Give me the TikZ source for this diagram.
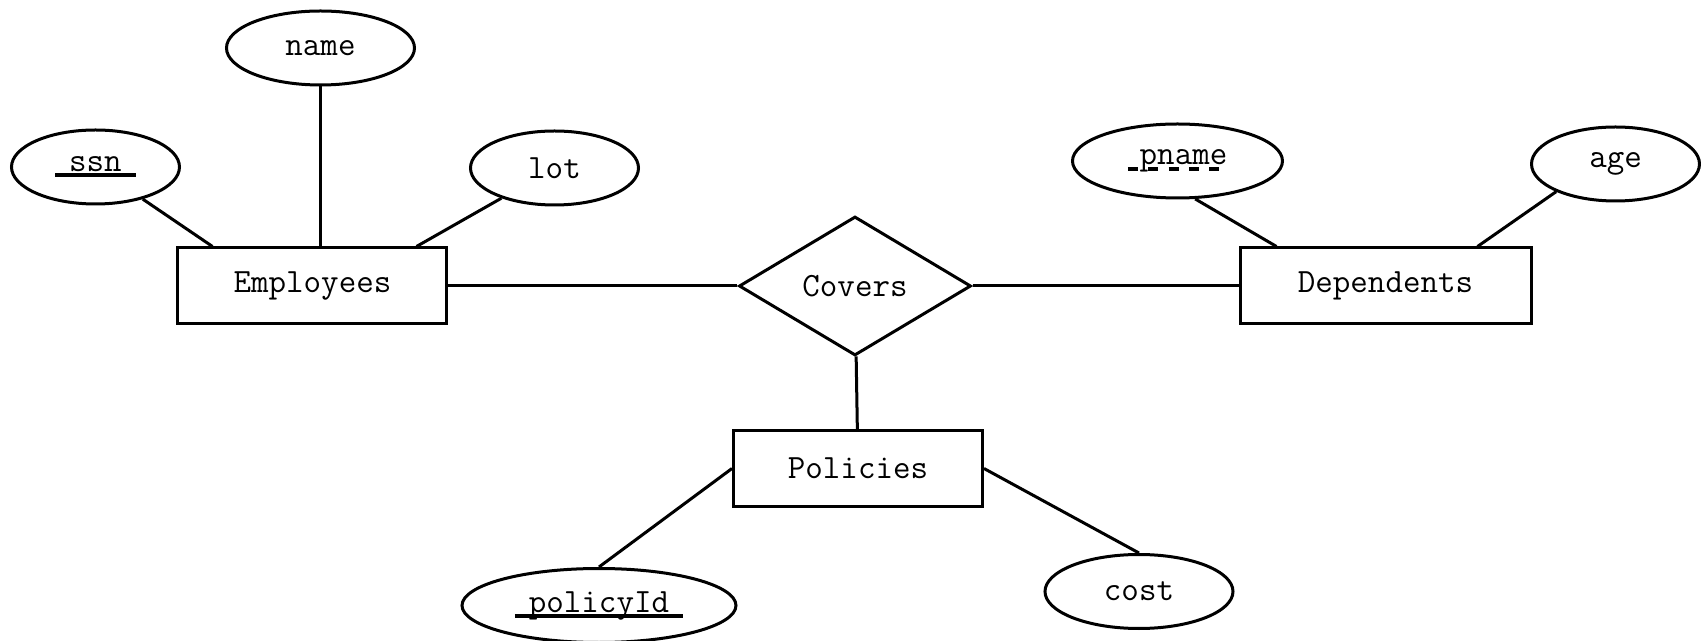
\documentclass[tikz,border=0pt]{standalone}
\usepackage{fontspec}
\usetikzlibrary{positioning,shapes.geometric}

\newsavebox{\ulbox}
\newcommand{\keyul}[1]{\sbox{\ulbox}{\kern7pt#1\kern7pt}\usebox{\ulbox}\llap{\rule[-3pt]{\wd\ulbox}{2pt}}}
\newcommand{\partkeyul}[1]{\sbox{\ulbox}{\kern7pt#1\kern1pt}\usebox{\ulbox}\llap{\hbox to \wd\ulbox{\xleaders\hbox{\rule[-3pt]{5pt}{2pt}\kern4pt}\hfill}}}

\begin{document}
\begin{tikzpicture}[
            line width=1.5pt,
            font=\ttfamily\fontsize{17pt}{20pt}\selectfont,
            entitynode/.style={rectangle, draw, minimum height=38pt, inner sep=0pt},
            attrnode/.style={ellipse, draw, minimum width=84pt, minimum height=37pt, inner sep=0pt},
            relnode/.style={diamond, draw, minimum width=116pt, minimum height=69.5pt, inner sep=0pt},
            ]
            \useasboundingbox (-427.5pt,-177.5pt) rectangle (423pt,143pt);

            %Nodes
            \node[relnode]                          (cov)   at (0,0)           {Covers};
            \node[entitynode, minimum width=134.5pt] (emp)  [left=144.5pt of cov]  {Employees};
            \node[entitynode, minimum width=145.5pt] (dep)  [right=133pt of cov] {Dependents};
            \node[entitynode, minimum width=124.5pt] (pol)  [below=36pt of cov, xshift=1.5pt] {Policies};

            \node[attrnode, minimum width=94pt]     (name)  [above=80pt of emp, xshift=4pt]    {name};
            \node[attrnode]                         (ssn)   [above=20.5pt of emp, xshift=-108.5pt] {\keyul{ssn}};
            \node[attrnode]                         (lot)   [above=20pt of emp, xshift=121pt]  {lot};
            \node[attrnode, minimum width=105pt]    (pname) [above=23.5pt of dep, xshift=-104pt]   {\partkeyul{pname}};
            \node[attrnode]                         (age)   [above=22pt of dep, xshift=115pt]  {age};
            \node[attrnode, minimum width=137pt]    (pid)   [below=29.5pt of pol, xshift=-129.5pt] {\keyul{policyId}};
            \node[attrnode, minimum width=94pt]     (cost)  [below=22.5pt of pol, xshift=140.5pt]  {cost};

            %Lines
            \draw (ssn) -- ([xshift=18pt]emp.north west);
            \draw (name) -- (name |- emp.north);
            \draw (lot) -- ([xshift=-16pt]emp.north east);
            \draw (emp) -- (cov);
            \draw (cov) -- (dep);
            \draw (pname.-65) -- ([xshift=19pt]dep.north west);
            \draw (age.-155) -- ([xshift=-27.5pt]dep.north east);
            \draw (cov) -- (pol);
            \draw (pol.west) -- (pid.north);
            \draw (pol.east) -- (cost.north);

        \end{tikzpicture}
\end{document}
